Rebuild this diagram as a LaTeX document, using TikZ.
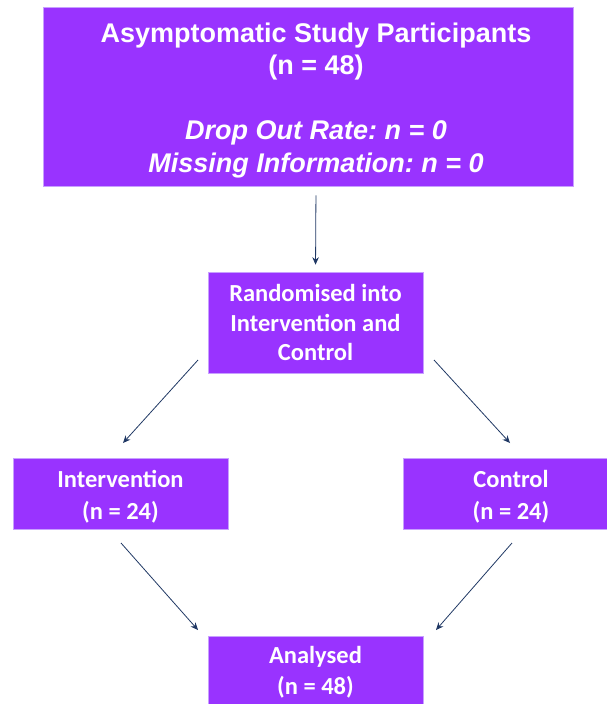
\documentclass[tikz,border=0pt]{standalone}
\usepackage{fontspec}
\setmainfont{Liberation Sans}
\newfontfamily\calibri{Carlito}
\usetikzlibrary{arrows.meta}
\frenchspacing

\definecolor{boxpurple}{RGB}{153,51,255}
\definecolor{boxedge}{RGB}{200,160,255}
\definecolor{arrownavy}{RGB}{32,56,100}

\tikzset{every picture/.style={line width=0.75pt}}
\tikzset{
  flowbox/.style={draw=boxedge, line width=0.6pt, fill=boxpurple, text=white, align=center, inner sep=0pt},
  smalltext/.style={font=\calibri\bfseries\fontsize{24.5}{29.5}\selectfont},
  flowarrow/.style={draw=arrownavy, line width=0.8pt, -{Stealth[length=7.5pt,width=6.5pt]}}
}

\begin{document}
\begin{tikzpicture}[x=1pt,y=1pt,yscale=-1]
        \useasboundingbox (0,0) rectangle (607,704);

        % Box: study participants
        \node [flowbox, minimum width=530, minimum height=179, font=\bfseries\fontsize{27}{32.5}\selectfont] (top) at (308,96.5)
          {\rule{0pt}{27pt}\hspace*{16pt}Asymptomatic Study Participants\\\hspace*{16pt}(n = 48)\\[32.5pt]\hspace*{16pt}\itshape Drop Out Rate: n = 0\\\hspace*{16pt}\itshape Missing Information: n = 0};
        % Box: randomisation
        \node [flowbox, smalltext, minimum width=215, minimum height=101] (rand) at (315.5,322.5)
          {Randomised into\\Intervention and\\Control};
        % Box: intervention arm
        \node [flowbox, smalltext, minimum width=215, minimum height=71] (interv) at (120.5,493.5)
          {\rule{0pt}{24pt}Intervention\\[2.5pt](n = 24)};
        % Box: control arm
        \node [flowbox, smalltext, minimum width=204, minimum height=71] (ctrl) at (505,493.5)
          {\rule{0pt}{24pt}\hspace*{12pt}Control\\[2.5pt]\hspace*{12pt}(n = 24)};
        % Box: analysed (runs off the bottom edge)
        \node [flowbox, smalltext, minimum width=215, minimum height=73] (anal) at (315.5,672.5)
          {Analysed\\[1pt](n = 48)};

        % Arrow ends
        \coordinate (randL) at (198,360);
        \coordinate (randR) at (434,360);
        \coordinate (intvT) at (123,443);
        \coordinate (ctrlT) at (510,443);
        \coordinate (intvB) at (121,543);
        \coordinate (ctrlB) at (512,543);
        \coordinate (analL) at (198,630);
        \coordinate (analR) at (436,630);

        % Arrows
        \draw [flowarrow, shorten <=9pt, shorten >=7pt] ([xshift=8pt]top.south) -- (rand.north);
        \draw [flowarrow] (randL) -- (intvT);
        \draw [flowarrow] (randR) -- (ctrlT);
        \draw [flowarrow] (intvB) -- (analL);
        \draw [flowarrow] (ctrlB) -- (analR);

\end{tikzpicture}
\end{document}
